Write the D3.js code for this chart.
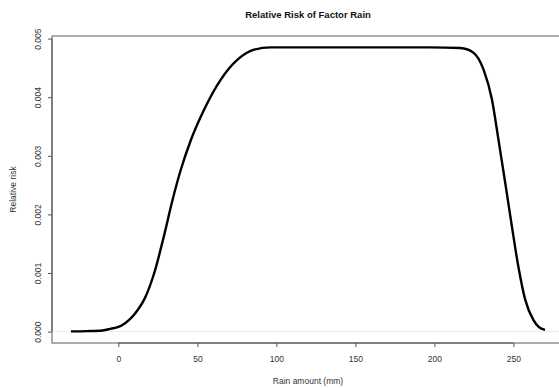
<!DOCTYPE html>
<html><head><meta charset="utf-8">
<script src="https://cdn.jsdelivr.net/npm/d3@7"></script>
<style>body{margin:0;background:#fff}svg{display:block}text{font-family:"Liberation Sans",Arial,sans-serif}</style>
</head><body><svg id="c" width="559" height="388"></svg>
<script>
const rain = [-30,-20,-10,-4.6,0,4,8,12,16.4,22.7,29.0,34.3,39.6,45.9,54.3,64.8,75.4,85.9,96.4,110,150,197.4,216.3,224.7,231.1,236.4,240.5,244.8,249.0,253.1,257.4,262.6,266,270];
const risk = [0.000004,0.000009,0.00002,0.00005,0.00008,0.00014,0.00023,0.00036,0.00055,0.00100,0.00165,0.00225,0.00277,0.00327,0.00379,0.00430,0.00464,0.00481,0.00485,0.00485,0.00485,0.00485,0.00484,0.00476,0.00447,0.00396,0.00328,0.00254,0.00180,0.00111,0.00055,0.00020,0.00008,0.00003];
const xTicks = [0,50,100,150,200,250];
const yTicks = [0.000,0.001,0.002,0.003,0.004,0.005];
const title = "Relative Risk of Factor Rain";
const xLabel = "Rain amount (mm)";
const yLabel = "Relative risk";

const svg = d3.select("#c");
const L = 52, R = 564, T = 36, B = 343;
const x = d3.scaleLinear().domain([-42, 282]).range([L, R]);
const y = d3.scaleLinear().domain([-0.000194, 0.005044]).range([B, T]);
const axisCol = "#555";

svg.append("line").attr("x1", L).attr("x2", R).attr("y1", y(0)).attr("y2", y(0))
  .attr("stroke", "#ececec").attr("stroke-width", 1);

svg.append("rect").attr("x", L).attr("y", T).attr("width", R - L).attr("height", B - T)
  .attr("fill", "none").attr("stroke", "#777").attr("stroke-width", 1.2);

const gx = svg.append("g").attr("transform", `translate(0,${B})`)
  .call(d3.axisBottom(x).tickValues(xTicks).tickSize(4).tickPadding(9).tickFormat(d3.format("d")));
gx.select(".domain").attr("d", `M${x(0)},0H${x(250)}`).attr("stroke", axisCol);
gx.selectAll(".tick line").attr("stroke", axisCol);
gx.selectAll(".tick text").attr("font-size", 8.5).attr("fill", "#333").attr("font-family", "Liberation Sans, Arial, sans-serif");

const gy = svg.append("g").attr("transform", `translate(${L},0)`)
  .call(d3.axisLeft(y).tickValues(yTicks).tickSize(4).tickFormat(d3.format(".3f")));
gy.select(".domain").attr("d", `M0,${y(0)}V${y(0.005)}`).attr("stroke", axisCol);
gy.selectAll(".tick line").attr("stroke", axisCol);
gy.selectAll(".tick text").attr("font-size", 8.5).attr("fill", "#333")
  .attr("font-family", "Liberation Sans, Arial, sans-serif")
  .attr("x", null).attr("dy", null)
  .attr("text-anchor", "middle")
  .attr("transform", "translate(-14,0) rotate(-90)")
  .attr("dominant-baseline", "central");

const line = d3.line().x((d, i) => x(rain[i])).y((d, i) => y(risk[i])).curve(d3.curveMonotoneX);
svg.append("path").datum(risk).attr("d", line).attr("fill", "none")
  .attr("stroke", "#000").attr("stroke-width", 2.4).attr("stroke-linejoin", "round");

svg.append("text").attr("x", (L + R) / 2).attr("y", 18).attr("text-anchor", "middle")
  .attr("font-size", 9.5).attr("font-weight", "bold").attr("fill", "#111").text(title);
svg.append("text").attr("x", (L + R) / 2).attr("y", 384).attr("text-anchor", "middle")
  .attr("font-size", 8.5).attr("fill", "#333").text(xLabel);
svg.append("text").attr("transform", `translate(16,${(T + B) / 2}) rotate(-90)`)
  .attr("text-anchor", "middle").attr("font-size", 8.5).attr("fill", "#333").text(yLabel);
</script></body></html>
